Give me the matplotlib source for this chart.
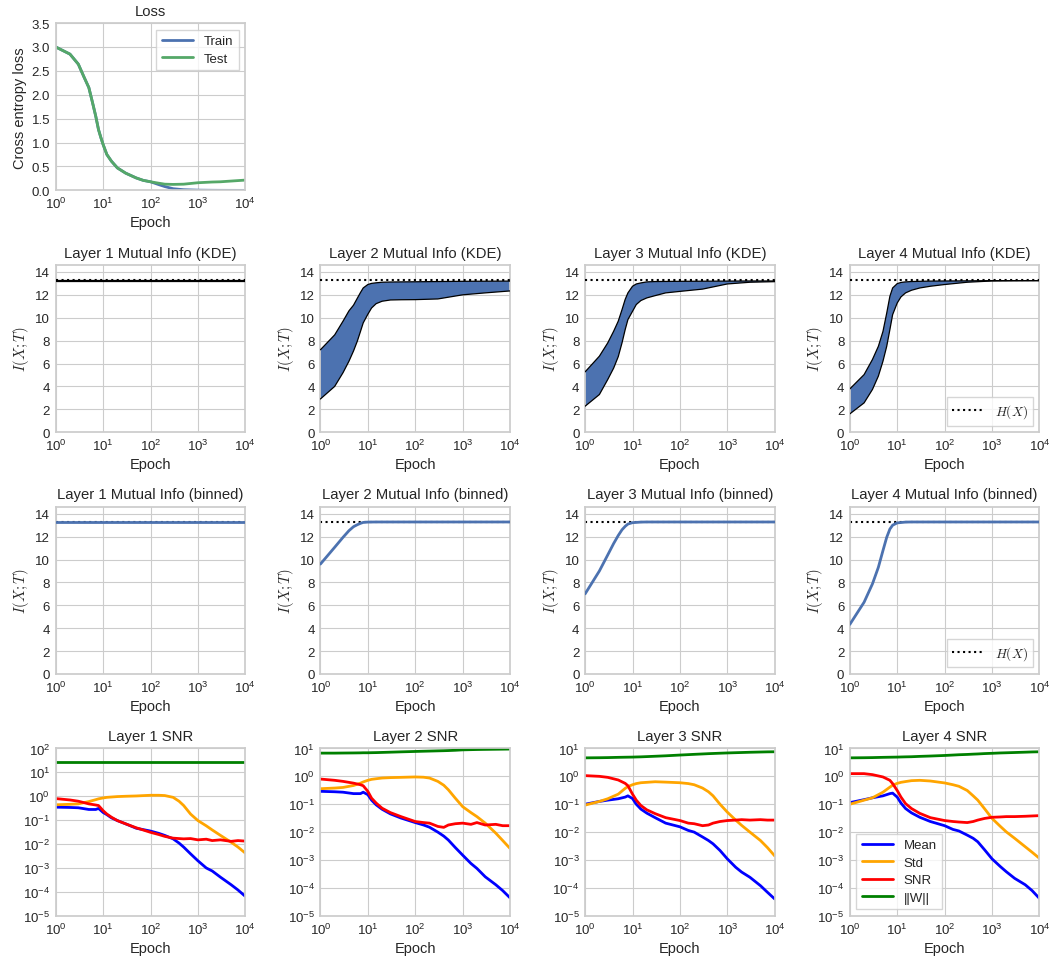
import matplotlib
matplotlib.use("Agg")
import matplotlib.pyplot as plt
import seaborn as sns

sns.set_style("whitegrid")
plt.rcParams.update({
    "font.family": ["Liberation Sans", "DejaVu Sans"],
    "mathtext.fontset": "cm",
    "axes.edgecolor": ".8",
    "axes.linewidth": 1.25,
    "grid.color": ".8",
    "text.color": ".15",
    "axes.labelcolor": ".15",
    "xtick.color": ".15",
    "ytick.color": ".15",
    "axes.titlesize": 10.7,
    "axes.labelsize": 10.5,
    "axes.labelpad": 3,
    "xtick.labelsize": 9.5,
    "ytick.labelsize": 9.5,
    "legend.fontsize": 9.5,
    "legend.labelspacing": 0.4,
    "legend.handlelength": 2.4,
})

H_X = 13.29  # entropy of the input, log2(10000)

# --- training loss ---
loss_epochs = [1, 2, 3, 4, 5, 6, 7, 8, 9, 10, 12, 15, 20, 30, 50, 70, 100,
               150, 200, 300, 500, 1000, 2000, 3000, 5000, 10000]
train_loss = [3.0, 2.85, 2.64, 2.36, 2.15, 1.83, 1.55, 1.27, 1.10, 0.96, 0.75,
              0.61, 0.47, 0.36, 0.26, 0.21, 0.18, 0.12, 0.08, 0.035, 0.014,
              0.005, 0.002, 0.001, 0.0005, 0.0]
test_loss = [3.0, 2.85, 2.64, 2.36, 2.15, 1.83, 1.55, 1.27, 1.10, 0.96, 0.75,
             0.61, 0.47, 0.36, 0.26, 0.21, 0.18, 0.15, 0.13, 0.125, 0.13,
             0.16, 0.175, 0.18, 0.195, 0.215]

# --- KDE mutual information bounds (upper / lower) ---
kde_epochs = [1, 2, 3, 4, 5, 6, 7, 8, 10, 12, 15, 20, 30, 50, 100, 300,
              1000, 3000, 10000]
kde_upper = [
    [13.29] * 19,
    [7.2, 8.5, 9.7, 10.6, 11.1, 11.7, 12.2, 12.6, 12.9, 13.0, 13.05, 13.1,
     13.12, 13.13, 13.14, 13.16, 13.18, 13.19, 13.2],
    [5.27, 6.64, 7.8, 8.82, 9.7, 10.7, 11.6, 12.17, 12.75, 12.95, 13.04,
     13.13, 13.16, 13.17, 13.18, 13.19, 13.2, 13.21, 13.21],
    [3.78, 5.03, 6.35, 7.5, 8.8, 10.4, 11.87, 12.6, 12.98, 13.08, 13.13,
     13.16, 13.18, 13.2, 13.21, 13.22, 13.24, 13.24, 13.24],
]
kde_lower = [
    [13.25] * 19,
    [2.9, 4.0, 5.2, 6.2, 7.1, 7.95, 8.8, 9.55, 10.3, 10.85, 11.23, 11.44,
     11.55, 11.57, 11.58, 11.64, 12.0, 12.17, 12.34],
    [2.27, 3.29, 4.6, 5.6, 6.6, 7.8, 8.96, 9.84, 10.56, 11.15, 11.5, 11.73,
     11.93, 12.17, 12.3, 12.5, 12.95, 13.1, 13.15],
    [1.6, 2.56, 3.73, 4.9, 6.2, 7.5, 8.96, 10.27, 11.29, 11.82, 12.17, 12.4,
     12.6, 12.75, 12.9, 13.1, 13.21, 13.23, 13.24],
]

# --- binned mutual information ---
bin_epochs = [1, 2, 3, 4, 5, 6, 7, 8, 10, 15, 20, 100, 1000, 10000]
bin_mi = [
    [13.25] * 14,
    [9.6, 11.07, 11.94, 12.52, 12.87, 13.04, 13.16, 13.24, 13.27, 13.28,
     13.28, 13.28, 13.28, 13.28],
    [7.0, 9.0, 10.4, 11.4, 12.1, 12.6, 12.9, 13.1, 13.22, 13.27, 13.28,
     13.28, 13.28, 13.28],
    [4.33, 6.27, 7.87, 9.32, 10.78, 11.94, 12.66, 13.0, 13.2, 13.27, 13.28,
     13.28, 13.28, 13.28],
]

# --- gradient statistics per layer ---
snr_epochs = [1, 2, 3, 5, 7, 8, 10, 12, 15, 20, 30, 50, 100, 150, 200, 300,
              400, 500, 700, 1000, 1500, 2000, 3000, 5000, 7000, 10000]
grad_mean = [
    [0.35, 0.34, 0.33, 0.28, 0.28, 0.31, 0.21, 0.17, 0.125, 0.096, 0.07,
     0.046, 0.035, 0.028, 0.023, 0.0165, 0.011, 0.0075, 0.0039, 0.002,
     0.0010, 0.00075, 0.00041, 0.0002, 0.00012, 0.000065],
    [0.29, 0.28, 0.27, 0.24, 0.24, 0.27, 0.22, 0.14, 0.095, 0.066, 0.045,
     0.032, 0.022, 0.018, 0.015, 0.010, 0.0072, 0.0052, 0.0028, 0.0015,
     0.00075, 0.0005, 0.00025, 0.00013, 0.00008, 0.000044],
    [0.1, 0.126, 0.14, 0.157, 0.18, 0.2, 0.16, 0.1, 0.067, 0.048, 0.033,
     0.021, 0.0155, 0.0115, 0.01, 0.0067, 0.005, 0.0038, 0.0022, 0.0011,
     0.00055, 0.00037, 0.00024, 0.00012, 0.00007, 0.00004],
    [0.114, 0.146, 0.17, 0.2, 0.24, 0.25, 0.18, 0.11, 0.07, 0.049, 0.034,
     0.024, 0.017, 0.0125, 0.011, 0.0078, 0.006, 0.0045, 0.0023, 0.0011,
     0.00058, 0.00038, 0.00022, 0.00013, 0.00008, 0.000042],
]
grad_std = [
    [0.44, 0.46, 0.48, 0.6, 0.72, 0.78, 0.85, 0.9, 0.93, 0.97, 1.0, 1.03,
     1.1, 1.1, 1.07, 0.9, 0.62, 0.41, 0.18, 0.096, 0.058, 0.039, 0.023,
     0.012, 0.0075, 0.0042],
    [0.36, 0.38, 0.40, 0.47, 0.57, 0.63, 0.72, 0.78, 0.82, 0.87, 0.9, 0.92,
     0.95, 0.93, 0.87, 0.66, 0.48, 0.33, 0.165, 0.082, 0.05, 0.036, 0.021,
     0.0092, 0.005, 0.0026],
    [0.093, 0.126, 0.157, 0.23, 0.37, 0.43, 0.50, 0.55, 0.59, 0.61, 0.64,
     0.62, 0.59, 0.55, 0.5, 0.38, 0.28, 0.2, 0.1, 0.052, 0.027, 0.0175,
     0.01, 0.005, 0.0028, 0.0014],
    [0.1, 0.14, 0.17, 0.27, 0.41, 0.48, 0.56, 0.61, 0.65, 0.7, 0.72, 0.68,
     0.58, 0.5, 0.44, 0.31, 0.2, 0.14, 0.068, 0.031, 0.016, 0.0102, 0.006,
     0.003, 0.0019, 0.00115],
]
grad_snr = [
    [0.8, 0.70, 0.62, 0.48, 0.43, 0.41, 0.25, 0.18, 0.133, 0.096, 0.07,
     0.048, 0.031, 0.025, 0.021, 0.0177, 0.017, 0.0165, 0.017, 0.015,
     0.016, 0.014, 0.015, 0.013, 0.014, 0.0133],
    [0.8, 0.72, 0.66, 0.57, 0.5, 0.46, 0.29, 0.165, 0.11, 0.072, 0.05,
     0.036, 0.024, 0.022, 0.021, 0.016, 0.0148, 0.018, 0.02, 0.021, 0.019,
     0.022, 0.018, 0.019, 0.017, 0.017],
    [1.06, 1.0, 0.92, 0.74, 0.56, 0.46, 0.23, 0.14, 0.09, 0.063, 0.046,
     0.033, 0.026, 0.021, 0.02, 0.017, 0.018, 0.021, 0.024, 0.026, 0.027,
     0.028, 0.027, 0.028, 0.027, 0.027],
    [1.25, 1.25, 1.15, 0.95, 0.72, 0.55, 0.31, 0.18, 0.105, 0.07, 0.047,
     0.033, 0.026, 0.024, 0.023, 0.022, 0.024, 0.027, 0.031, 0.034, 0.035,
     0.036, 0.036, 0.037, 0.038, 0.039],
]
weight_norm = [
    [27.5] * 26,
    [6.8, 6.8, 6.85, 6.9, 6.95, 7.0, 7.0, 7.05, 7.1, 7.2, 7.35, 7.55, 7.8,
     7.95, 8.05, 8.2, 8.3, 8.4, 8.6, 8.9, 9.05, 9.15, 9.25, 9.35, 9.42, 9.5],
    [4.6, 4.65, 4.7, 4.8, 4.85, 4.87, 4.9, 4.95, 5.0, 5.1, 5.25, 5.45, 5.8,
     6.0, 6.15, 6.35, 6.5, 6.6, 6.75, 6.9, 7.05, 7.15, 7.3, 7.45, 7.55, 7.6],
    [4.6, 4.65, 4.7, 4.8, 4.85, 4.87, 4.9, 4.95, 5.0, 5.05, 5.2, 5.35, 5.6,
     5.8, 5.95, 6.1, 6.25, 6.35, 6.55, 6.7, 6.9, 7.0, 7.15, 7.35, 7.5, 7.6],
]
snr_top_decade = [2, 1, 1, 1]

blue = "#4C72B0"
green = "#55A868"


def style_axis(ax):
    ax.set_xscale("log")
    ax.set_xlim(1, 1e4)
    ax.set_xticks([1, 10, 100, 1000, 10000])
    ax.set_xlabel("Epoch")
    ax.tick_params(which="major", length=0, pad=4)
    ax.tick_params(which="minor", direction="in", length=2.5, width=0.8,
                   color=".75", top=True, right=True, bottom=False,
                   left=False)


fig, axes = plt.subplots(4, 4, figsize=(10.51, 9.62), dpi=100)
fig.subplots_adjust(left=0.053, right=0.989, top=0.975, bottom=0.047,
                    wspace=0.396, hspace=0.445)

for ax in axes[0, 1:]:
    ax.remove()

# loss
ax = axes[0, 0]
ax.plot(loss_epochs, train_loss, color=blue, lw=2, label="Train")
ax.plot(loss_epochs, test_loss, color=green, lw=2, label="Test")
style_axis(ax)
ax.set_ylim(0, 3.5)
ax.set_yticks([0, 0.5, 1, 1.5, 2, 2.5, 3, 3.5])
ax.set_yticklabels(["0.0", "0.5", "1.0", "1.5", "2.0", "2.5", "3.0", "3.5"])
ax.set_ylabel("Cross entropy loss")
ax.set_title("Loss")
ax.legend(loc="upper right", frameon=True, edgecolor=".8", fancybox=False)

for i in range(4):
    # KDE estimate
    ax = axes[1, i]
    ax.fill_between(kde_epochs, kde_lower[i], kde_upper[i], facecolor=blue,
                    edgecolor="none", zorder=2)
    ax.plot(kde_epochs, kde_upper[i], color="k", lw=0.9, zorder=3)
    ax.plot(kde_epochs, kde_lower[i], color="k", lw=0.9, zorder=3)
    hx, = ax.plot([1, 1e4], [H_X, H_X], color="k", ls=":", lw=1.5,
                  label="$H(X)$", zorder=4)
    style_axis(ax)
    ax.set_ylim(0, 1.1 * H_X)
    ax.set_yticks(range(0, 15, 2))
    ax.set_ylabel("$I(X;T)$")
    ax.set_title(f"Layer {i + 1} Mutual Info (KDE)")
    if i == 3:
        ax.legend(handles=[hx], loc="lower right", frameon=True,
                  edgecolor=".8", fancybox=False)

    # binned estimate
    ax = axes[2, i]
    ax.plot(bin_epochs, bin_mi[i], color=blue, lw=2, zorder=3)
    hx, = ax.plot([1, 1e4], [H_X, H_X], color="k", ls=":", lw=1.5,
                  label="$H(X)$", zorder=2)
    style_axis(ax)
    ax.set_ylim(0, 1.1 * H_X)
    ax.set_yticks(range(0, 15, 2))
    ax.set_ylabel("$I(X;T)$")
    ax.set_title(f"Layer {i + 1} Mutual Info (binned)")
    if i == 3:
        ax.legend(handles=[hx], loc="lower right", frameon=True,
                  edgecolor=".8", fancybox=False)

    # gradient SNR
    ax = axes[3, i]
    ax.plot(snr_epochs, grad_mean[i], color="blue", lw=2, label="Mean")
    ax.plot(snr_epochs, grad_std[i], color="orange", lw=2, label="Std")
    ax.plot(snr_epochs, grad_snr[i], color="red", lw=2, label="SNR")
    ax.plot(snr_epochs, weight_norm[i], color="green", lw=2, label="||W||")
    ax.set_yscale("log")
    style_axis(ax)
    top = snr_top_decade[i]
    ax.set_ylim(1e-5, 10.0 ** top)
    ax.set_yticks([10.0 ** k for k in range(-5, top + 1)])
    ax.tick_params(which="minor", direction="in", length=2.5, width=0.8,
                   color=".75", top=True, right=True, bottom=False,
                   left=False)
    ax.set_title(f"Layer {i + 1} SNR")
    if i == 3:
        ax.legend(loc="lower left", frameon=True, edgecolor=".8",
                  fancybox=False)

fig.savefig("out.png", dpi=100)
